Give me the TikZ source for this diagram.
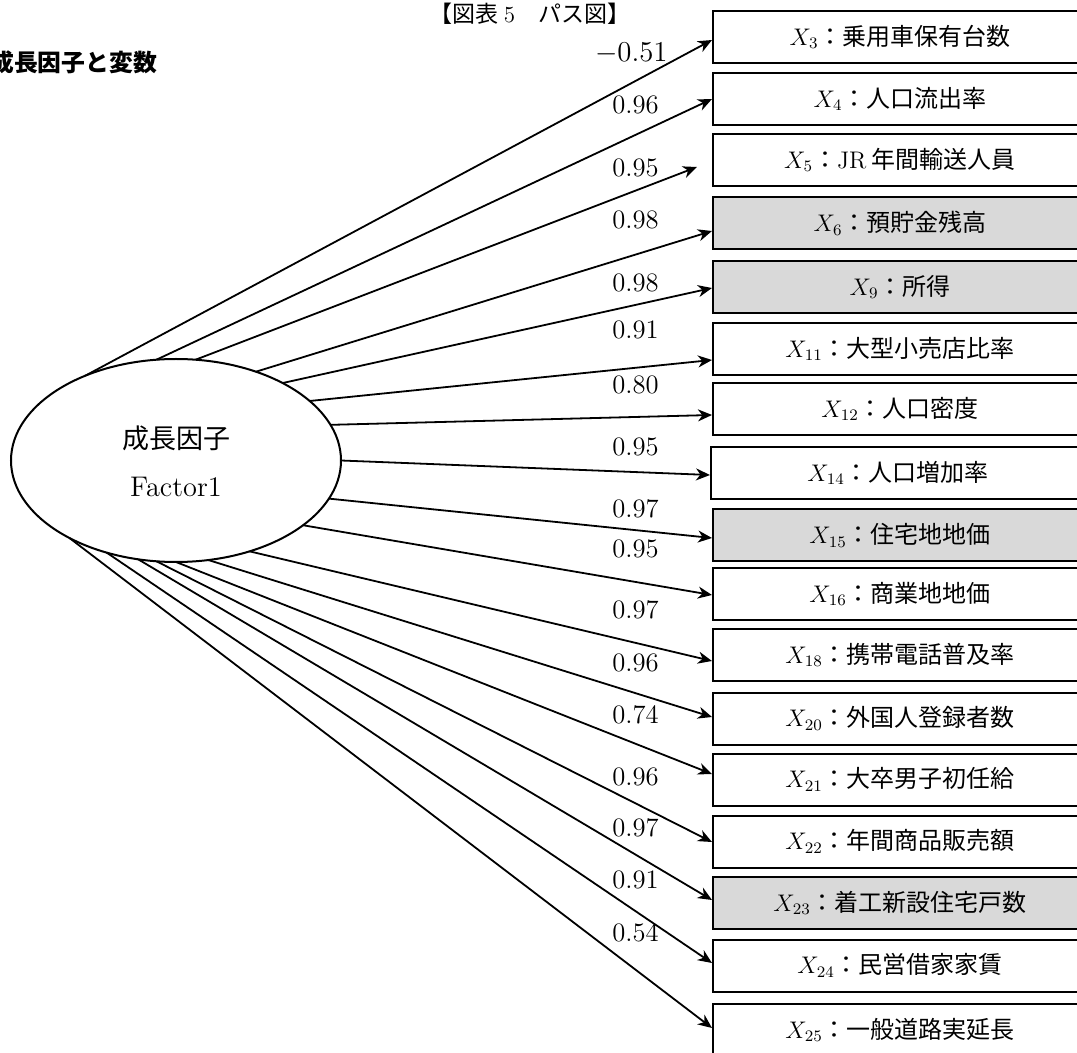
\documentclass[tikz,border=0pt]{standalone}
\usepackage{fontspec}
\newfontfamily\cjk{Noto Sans CJK JP}
\usetikzlibrary{shapes.geometric,arrows.meta}
\begin{document}
\begin{tikzpicture}[x=0.5pt,y=-0.5pt,
  var/.style={draw=black, line width=1pt, minimum width=187pt, minimum height=26pt, inner sep=0pt, font=\fontsize{12}{14}\selectfont},
  shaded/.style={var, fill=gray!30},
  pathline/.style={line width=0.9pt, -{Stealth[length=7pt,width=6pt,inset=2.2pt]}},
  coef/.style={inner sep=0pt, anchor=east, font=\fontsize{13.3}{16}\selectfont}]
\useasboundingbox (0,0) rectangle (1077,1053);

% heading and title
\node[anchor=west, inner sep=0pt, font=\cjk\bfseries\fontsize{11.9}{14}\selectfont] (head) at (-10,62) {成長因子と変数};
\node[inner sep=0pt, font=\cjk\fontsize{11.5}{14}\selectfont] (title) at (530,14) {【図表 {\rmfamily 5}　パス図】};

% factor
\node[draw, ellipse, line width=1pt, minimum width=165pt, minimum height=101.5pt, inner sep=0pt, outer sep=0pt] (f) at (176,460.5) {};
\node[inner sep=0pt, font=\cjk\fontsize{13.5}{16}\selectfont] (fa) at (176,438) {成長因子};
\node[inner sep=0pt, font=\fontsize{14.2}{16}\selectfont] (fb) at (176,487) {Factor1};

% variables
\node[var]    (b3)  at (900,37)    {$X_{3}$\cjk：乗用車保有台数};
\node[var]    (b4)  at (900,99)    {$X_{4}$\cjk：人口流出率};
\node[var]    (b5)  at (900,160)   {$X_{5}$\cjk：{\rmfamily JR} 年間輸送人員};
\node[shaded] (b6)  at (900,223.5) {$X_{6}$\cjk：預貯金残高};
\node[shaded] (b9)  at (900,287)   {$X_{9}$\cjk：所得};
\node[var]    (b11) at (900,349)   {$X_{11}$\cjk：大型小売店比率};
\node[var]    (b12) at (900,409)   {$X_{12}$\cjk：人口密度};
\node[var]    (b14) at (898,473)   {$X_{14}$\cjk：人口増加率};
\node[shaded] (b15) at (900,535.5) {$X_{15}$\cjk：住宅地地価};
\node[var]    (b16) at (900,594)   {$X_{16}$\cjk：商業地地価};
\node[var]    (b18) at (900,655)   {$X_{18}$\cjk：携帯電話普及率};
\node[var]    (b20) at (900,718.5) {$X_{20}$\cjk：外国人登録者数};
\node[var]    (b21) at (900,779.5) {$X_{21}$\cjk：大卒男子初任給};
\node[var]    (b22) at (900,841.5) {$X_{22}$\cjk：年間商品販売額};
\node[shaded] (b23) at (900,903)   {$X_{23}$\cjk：着工新設住宅戸数};
\node[var]    (b24) at (900,965.5) {$X_{24}$\cjk：民営借家家賃};
\node[var]    (b25) at (900,1030)  {$X_{25}$\cjk：一般道路実延長};

% paths
\draw[pathline] (f.137.1)  -- ([yshift=-1.5pt]b3.west);
\draw[pathline] (f.101.7)  -- (b4.west);
\draw[pathline] (f.79.6)   -- ([xshift=-7.5pt,yshift=-3.5pt]b5.west);
\draw[pathline] (f.48)     -- ([yshift=-3.75pt]b6.west);
\draw[pathline] (f.36.7)   -- ([yshift=-0.5pt]b9.west);
\draw[pathline] (f.24.4)   -- ([yshift=-5.5pt]b11.west);
\draw[pathline] (f.13)     -- ([yshift=-3pt]b12.west);
\draw[pathline] (f.-0.5)   -- ([yshift=-1pt]b14.west);
\draw[pathline] (f.-14.2)  -- ([yshift=-1.25pt]b15.west);
\draw[pathline] (f.-27.8)  -- ([yshift=-0.5pt]b16.west);
\draw[pathline] (f.-51.9)  -- ([yshift=-3pt]b18.west);
\draw[pathline] (f.-72.9)  -- ([yshift=0.75pt]b20.west);
\draw[pathline] (f.-90.6)  -- ([yshift=2.75pt]b21.west);
\draw[pathline] (f.-101.8) -- ([yshift=-0.25pt]b22.west);
\draw[pathline] (f.-111.2) -- ([yshift=1.5pt]b23.west);
\draw[pathline] (f.-127)   -- ([yshift=1.25pt]b24.west);
\draw[pathline] (f.-144.2) -- ([yshift=1pt]b25.west);

% coefficients
\node[coef] (c3)  at (668,53)  {$-0.51$};
\node[coef] (c4)  at (659,105) {0.96};
\node[coef] (c5)  at (659,168) {0.95};
\node[coef] (c6)  at (659,220) {0.98};
\node[coef] (c9)  at (659,283) {0.98};
\node[coef] (c11) at (659,330) {0.91};
\node[coef] (c12) at (659,385) {0.80};
\node[coef] (c14) at (659,447) {0.95};
\node[coef] (c15) at (659,509) {0.97};
\node[coef] (c16) at (659,549) {0.95};
\node[coef] (c18) at (659,610) {0.97};
\node[coef] (c20) at (659,663) {0.96};
\node[coef] (c21) at (659,715) {0.74};
\node[coef] (c22) at (659,777) {0.96};
\node[coef] (c23) at (659,828) {0.97};
\node[coef] (c24) at (659,880) {0.91};
\node[coef] (c25) at (659,933) {0.54};
\end{tikzpicture}
\end{document}
